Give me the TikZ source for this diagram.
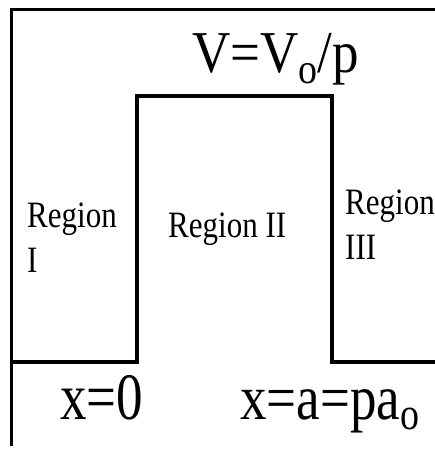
\documentclass[tikz,border=0pt]{standalone}
\usepackage{fontspec}
\setmainfont{Liberation Serif}
\newcommand{\subo}[2]{\raisebox{-#2pt}{\fontsize{#1}{#1}\selectfont o}}
\tikzset{
  frameline/.style={line width=3pt, line cap=rect},
  potline/.style={line width=4pt, line join=miter},
  regiontext/.style={font=\fontsize{31}{37.5}\selectfont, align=left, inner sep=0pt, anchor=base west, yscale=1.2},
  formula/.style={font=\fontsize{53}{60}\selectfont, inner sep=0pt, anchor=base west},
}
\begin{document}
\begin{tikzpicture}[x=1pt,y=1pt]
\useasboundingbox (0,0) rectangle (435,453);
% frame
\coordinate (ftl) at (11,443);
\coordinate (ftr) at (435,443);
\coordinate (fbl) at (11,8);
\draw[frameline] (ftr) -- (ftl) -- (fbl);
% potential
\coordinate (g0) at (11,91);
\coordinate (b1) at (137,91);
\coordinate (b2) at (137,357);
\coordinate (b3) at (332,357);
\coordinate (b4) at (332,91);
\coordinate (g1) at (435,91);
\draw[potline] (g0) -- (b1) -- (b2) -- (b3) -- (b4) -- (g1);
% labels
\node[formula, yscale=1.12] (pot) at (192,380) {V=V\subo{38}{9}/p};
\node[regiontext] (r1) at (27,180) {Region\\I};
\node[regiontext] (r2) at (168,215) {Region II};
\node[regiontext] (r3) at (345,193) {Region\\III};
\node[formula, yscale=1.25] (x0) at (60,34) {x=0};
\node[formula, yscale=1.2] (xa) at (240,33) {x=a=pa\subo{38}{8}};
\end{tikzpicture}
\end{document}
